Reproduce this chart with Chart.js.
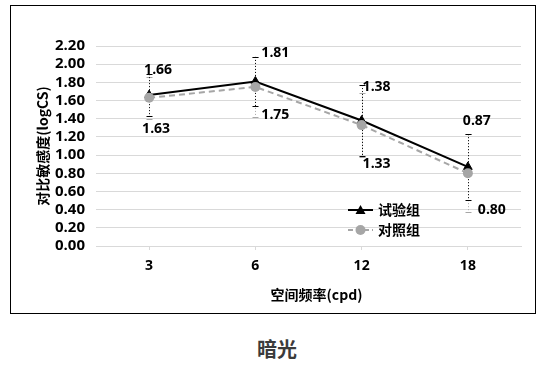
<!DOCTYPE html>
<html>
<head>
<meta charset="utf-8">
<script src="https://cdn.jsdelivr.net/npm/chart.js@4/dist/chart.umd.min.js"></script>
<style>
  html, body { margin: 0; padding: 0; background: #fff; width: 550px; height: 367px; overflow: hidden; }
  #box { position: absolute; left: 10px; top: 5px; width: 524px; height: 307px; border: 1px solid #000; }
  #title { position: absolute; left: 0; width: 554px; top: 334px; text-align: center;
           font: bold 20px 'Noto Sans CJK SC', sans-serif; color: #3b3b3b; }
</style>
</head>
<body>
<div id="box"><canvas id="c" width="524" height="307"></canvas></div>
<div id="title">暗光</div>
<script>
const categories = ['3', '6', '12', '18'];
const seriesNames = ['试验组', '对照组'];
const trialValues = [1.66, 1.81, 1.38, 0.87];
const controlValues = [1.63, 1.75, 1.33, 0.80];
const trialErrors = [0.23, 0.27, 0.39, 0.36];
const controlErrors = [0.23, 0.33, 0.35, 0.43];
const yTickValues = [0, 0.2, 0.4, 0.6, 0.8, 1.0, 1.2, 1.4, 1.6, 1.8, 2.0, 2.2];
const xAxisTitle = '空间频率(cpd)';
const yAxisTitle = '对比敏感度(logCS)';

// label offsets (style only): [dx, dy] in px from each point
const trialLabelOffsets = [[9, -25], [20, -28], [15, -34], [9, -46]];
const controlLabelOffsets = [[7, 31], [20, 28], [15, 39], [24, 37]];

const FONT = "'Open Sans', 'Noto Sans CJK SC', sans-serif";
const CJK = "'Noto Sans CJK SC', 'Open Sans', sans-serif";
const BLACK = '#000000';
const GRAY = '#a6a6a6';

const errorBars = {
  id: 'errorBars',
  beforeDatasetsDraw(chart) {
    const ctx = chart.ctx;
    const xs = chart.scales.x, ys = chart.scales.y;
    const sets = [
      { vals: controlValues, errs: controlErrors, color: GRAY },
      { vals: trialValues, errs: trialErrors, color: BLACK }
    ];
    ctx.save();
    sets.forEach(s => {
      s.vals.forEach((v, i) => {
        const x = Math.round(xs.getPixelForValue(i)) + 0.5;
        const yt = ys.getPixelForValue(v + s.errs[i]);
        const yb = ys.getPixelForValue(v - s.errs[i]);
        ctx.strokeStyle = s.color;
        ctx.lineWidth = 1;
        ctx.setLineDash([1, 2]);
        ctx.beginPath(); ctx.moveTo(x, yt); ctx.lineTo(x, yb); ctx.stroke();
        ctx.setLineDash([]);
        ctx.beginPath();
        ctx.moveTo(x - 3, Math.round(yt) + 0.5); ctx.lineTo(x + 3, Math.round(yt) + 0.5);
        ctx.moveTo(x - 3, Math.round(yb) + 0.5); ctx.lineTo(x + 3, Math.round(yb) + 0.5);
        ctx.stroke();
      });
    });
    ctx.restore();
  }
};

const valueLabels = {
  id: 'valueLabels',
  afterDatasetsDraw(chart) {
    const ctx = chart.ctx;
    const xs = chart.scales.x, ys = chart.scales.y;
    ctx.save();
    ctx.font = 'bold 14px ' + FONT;
    ctx.fillStyle = '#000';
    ctx.textAlign = 'center';
    ctx.textBaseline = 'middle';
    const draw = (vals, offs) => vals.forEach((v, i) => {
      ctx.fillText(v.toFixed(2), xs.getPixelForValue(i) + offs[i][0], ys.getPixelForValue(v) + offs[i][1]);
    });
    draw(trialValues, trialLabelOffsets);
    draw(controlValues, controlLabelOffsets);
    ctx.restore();
  }
};

const customLegend = {
  id: 'customLegend',
  afterDraw(chart) {
    const ctx = chart.ctx;
    const a = chart.chartArea;
    const x0 = a.left + 252, x1 = a.left + 277, tx = a.left + 282;
    const rows = [
      { y: a.top + 164, color: BLACK, dash: [], style: 'triangle', name: seriesNames[0] },
      { y: a.top + 184, color: GRAY, dash: [5, 3], style: 'circle', name: seriesNames[1] }
    ];
    ctx.save();
    rows.forEach(r => {
      ctx.strokeStyle = r.color; ctx.lineWidth = 2; ctx.setLineDash(r.dash);
      ctx.beginPath(); ctx.moveTo(x0, r.y); ctx.lineTo(x1, r.y); ctx.stroke();
      ctx.setLineDash([]);
      const cx = (x0 + x1) / 2;
      ctx.fillStyle = r.color;
      ctx.beginPath();
      if (r.style === 'circle') { ctx.arc(cx, r.y, 5, 0, Math.PI * 2); }
      else { ctx.moveTo(cx, r.y - 5); ctx.lineTo(cx + 5, r.y + 4); ctx.lineTo(cx - 5, r.y + 4); ctx.closePath(); }
      ctx.fill();
      ctx.fillStyle = '#000';
      ctx.font = 'bold 14px ' + CJK;
      ctx.textAlign = 'left'; ctx.textBaseline = 'middle';
      ctx.fillText(r.name, tx, r.y);
    });
    ctx.restore();
  }
};

const xTitle = {
  id: 'xTitle',
  afterDraw(chart) {
    const ctx = chart.ctx;
    const a = chart.chartArea;
    ctx.save();
    ctx.font = 'bold 14px ' + CJK;
    ctx.fillStyle = '#000';
    ctx.textAlign = 'center';
    ctx.textBaseline = 'middle';
    ctx.fillText(xAxisTitle, (a.left + a.right) / 2 + 8, a.bottom + 49);
    ctx.restore();
  }
};

new Chart(document.getElementById('c'), {
  type: 'line',
  data: {
    labels: categories,
    datasets: [
      { label: seriesNames[0], data: trialValues, borderColor: BLACK, backgroundColor: BLACK,
        borderWidth: 2, pointStyle: 'triangle', pointRadius: 5, pointBorderWidth: 1, order: 1 },
      { label: seriesNames[1], data: controlValues, borderColor: GRAY, backgroundColor: GRAY,
        borderWidth: 2, borderDash: [6, 4], pointStyle: 'circle', pointRadius: 5, pointBorderWidth: 0, order: 0 }
    ]
  },
  options: {
    responsive: false,
    devicePixelRatio: 1,
    animation: false,
    layout: { padding: { top: 40, right: 14, left: 0, bottom: 0 } },
    plugins: { legend: { display: false }, tooltip: { enabled: false } },
    scales: {
      x: {
        offset: true,
        afterFit(s) { s.height = 67; },
        grid: { display: true, drawOnChartArea: false, offset: false, tickLength: 4, color: '#d9d9d9' },
        border: { display: true, color: '#d9d9d9' },
        ticks: { padding: 8, color: '#000', font: { family: FONT, size: 14, weight: 'bold' } },
        title: { display: false }
      },
      y: {
        min: yTickValues[0], max: yTickValues[yTickValues.length - 1],
        afterFit(s) { s.width = 85; },
        afterBuildTicks(s) { s.ticks = yTickValues.map(v => ({ value: v })); },
        grid: { color: '#d9d9d9', drawTicks: false },
        border: { display: false },
        ticks: { autoSkip: false, padding: 11, color: '#000',
                 font: { family: FONT, size: 15, weight: 'bold' },
                 callback: v => Number(v).toFixed(2) },
        title: { display: true, text: yAxisTitle, color: '#000', padding: { top: 23, bottom: 0 },
                 font: { family: CJK, size: 14, weight: 'bold' } }
      }
    }
  },
  plugins: [errorBars, valueLabels, customLegend, xTitle]
});
</script>
</body>
</html>
